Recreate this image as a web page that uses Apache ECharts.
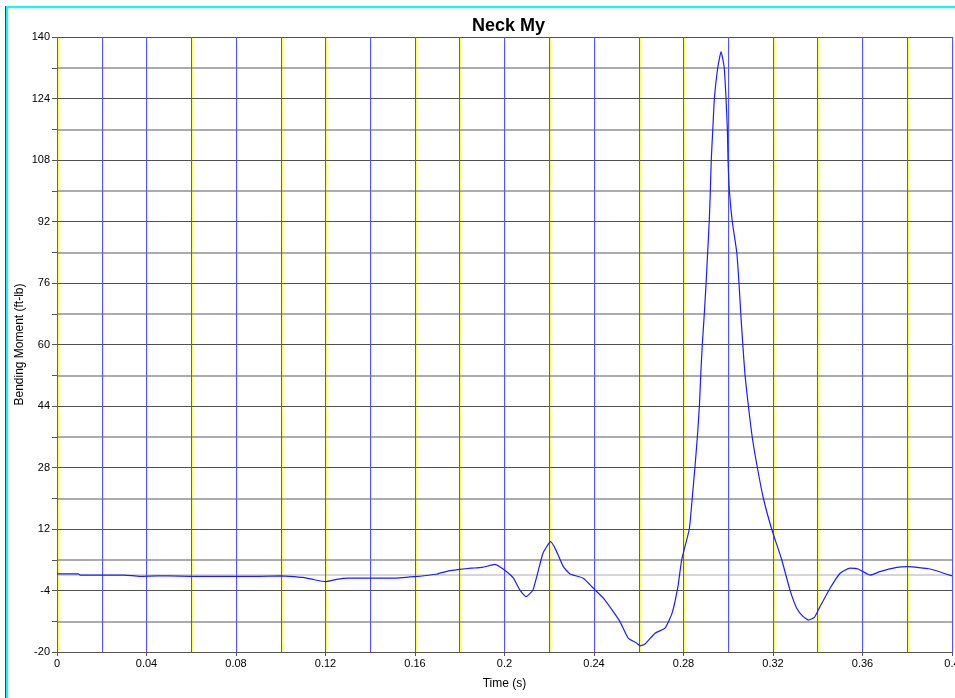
<!DOCTYPE html>
<html>
<head>
<meta charset="utf-8">
<script src="https://cdn.jsdelivr.net/npm/echarts@6/dist/echarts.min.js"></script>
<style>
html,body{margin:0;padding:0;background:#fff;}
#chart{width:955px;height:698px;}
</style>
</head>
<body>
<div id="chart"></div>
<script>
var chartTitle = "Neck My";
var xAxisName = "Time (s)";
var yAxisName = "Bending Moment (ft-lb)";

var time = [0, 0.005, 0.0095, 0.0105, 0.02, 0.03, 0.037, 0.045, 0.05, 0.06,
  0.07, 0.08, 0.09, 0.1, 0.104, 0.11, 0.115, 0.12, 0.125, 0.13,
  0.14, 0.15, 0.16, 0.165, 0.17, 0.175, 0.18, 0.185, 0.19, 0.1957,
  0.201, 0.204, 0.2069, 0.2096, 0.2127, 0.2172, 0.2206, 0.223, 0.2263, 0.2293,
  0.2352, 0.2397, 0.2442, 0.2486, 0.2516, 0.2553, 0.2591, 0.2606, 0.2628, 0.2673,
  0.2717, 0.2749, 0.2775, 0.2792, 0.2826, 0.2839, 0.2851, 0.2862, 0.2871, 0.2877,
  0.2884, 0.2893, 0.2901, 0.2908, 0.2915, 0.2920, 0.2924, 0.2931, 0.2938, 0.2953,
  0.2968, 0.2982, 0.2990, 0.2996, 0.2999, 0.3005, 0.3018, 0.3038, 0.3048, 0.3056,
  0.3065, 0.3075, 0.3090, 0.3107, 0.3130, 0.3157, 0.3194, 0.3239, 0.3276, 0.3306,
  0.3335, 0.3358, 0.3385, 0.3410, 0.3455, 0.3500, 0.3544, 0.358, 0.3634, 0.3678,
  0.3753, 0.3803, 0.3902, 0.4];

var moment = [0.3, 0.3, 0.3, 0, 0, 0, -0.3, -0.2, -0.2, -0.3,
  -0.3, -0.3, -0.3, -0.2, -0.3, -0.6, -1.2, -1.7, -1.1, -0.8,
  -0.8, -0.8, -0.4, -0.1, 0.3, 1.1, 1.5, 1.8, 2.0, 2.8,
  0.9, -0.8, -3.9, -5.6, -3.9, 5.7, 8.7, 6.5, 2.2, 0.3,
  -0.8, -3.4, -6.0, -9.5, -12.1, -16.4, -17.7, -18.4, -17.9, -15.1,
  -13.8, -9.9, -3.0, 4, 12, 20, 28, 36, 44, 52,
  60, 68, 76, 84, 92, 100, 108, 116, 124, 132,
  136.2, 132, 124, 116, 108, 100, 92, 84, 76, 68,
  60, 52, 44, 36, 28, 20, 12, 4, -3.9, -8.6,
  -10.8, -11.7, -11.0, -8.2, -3.4, 0.5, 1.8, 1.6, 0, 0.9,
  2.0, 2.2, 1.6, -0.2];

var xMin = 0, xMax = 0.4, xStep = 0.04;
var yMin = -20, yMax = 140, yStep = 16;

var seriesData = time.map(function (t, i) { return [t, moment[i]]; });

var chart = echarts.init(document.getElementById('chart'), null, {renderer: 'canvas'});
var font = 'Arial, "Liberation Sans", sans-serif';
var blue = '#5252ff';

chart.setOption({
  animation: false,
  backgroundColor: '#ffffff',
  title: {
    text: chartTitle,
    left: 467, top: 12,
    textStyle: {fontFamily: font, fontSize: 18, fontWeight: 'bold', color: '#000'}
  },
  graphic: [
    {type: 'rect', silent: true, z: 100, zlevel: 2,
     shape: {x: 7, y: 7, width: 960, height: 720},
     style: {fill: 'none', stroke: '#00ffff', lineWidth: 2}},
    {type: 'line', silent: true, z: 100, zlevel: 2,
     shape: {x1: 5.5, y1: 6, x2: 5.5, y2: 698},
     style: {stroke: '#3030c0', lineWidth: 1}}
  ],
  grid: [
    {left: 57, right: 3, top: 37, bottom: 46, containLabel: false, outerBoundsMode: 'none'},
    {left: 58, right: 2, top: 37, bottom: 46, containLabel: false, outerBoundsMode: 'none'}
  ],
  xAxis: [
    {
      gridIndex: 0, type: 'value', min: xMin, max: xMax, interval: xStep,
      name: xAxisName, nameLocation: 'middle', nameGap: 26, nameMoveOverlap: false,
      nameTextStyle: {fontFamily: font, fontSize: 12, color: '#000'},
      axisLine: {show: true, onZero: false, lineStyle: {color: '#555', width: 1}},
      axisTick: {show: true, length: 4, lineStyle: {color: '#555'}},
      minorTick: {show: false, splitNumber: 2},
      axisLabel: {fontFamily: font, fontSize: 11, color: '#000', margin: 6},
      splitLine: {show: true, lineStyle: {color: blue, width: 1}},
      minorSplitLine: {show: true, lineStyle: {color: blue, width: 1}},
      zlevel: 1
    },
    {
      gridIndex: 1, type: 'value', min: xMin, max: xMax, interval: xStep,
      axisLine: {show: false}, axisTick: {show: false}, axisLabel: {show: false},
      minorTick: {show: false, splitNumber: 2},
      splitLine: {show: true, lineStyle: {color: '#ffff30', width: 1, opacity: 0.8}},
      minorSplitLine: {show: true, lineStyle: {color: '#ffff30', width: 1, opacity: 0.8}},
      zlevel: 0
    }
  ],
  yAxis: [
    {
      gridIndex: 0, type: 'value', min: yMin, max: yMax, interval: yStep,
      name: yAxisName, nameLocation: 'middle', nameGap: 31, nameRotate: 90,
      nameMoveOverlap: false,
      nameTextStyle: {fontFamily: font, fontSize: 12, color: '#000'},
      axisLine: {show: false},
      axisTick: {show: true, length: 5, lineStyle: {color: '#555'}},
      minorTick: {show: true, splitNumber: 2, length: 5, lineStyle: {color: '#555'}},
      axisLabel: {fontFamily: font, fontSize: 11, color: '#000', margin: 7},
      splitLine: {show: true, lineStyle: {color: '#505050', width: 1}},
      minorSplitLine: {show: true, lineStyle: {color: '#909090', width: 1.5}},
      zlevel: 1
    },
    {
      gridIndex: 1, type: 'value', min: yMin, max: yMax, interval: yStep,
      axisLine: {show: false}, axisTick: {show: false}, axisLabel: {show: false},
      splitLine: {show: false}
    }
  ],
  series: [{
    type: 'line',
    xAxisIndex: 0, yAxisIndex: 0,
    data: seriesData,
    showSymbol: false,
    smooth: 0.15,
    lineStyle: {color: '#1c1cff', width: 1.2},
    zlevel: 1,
    z: 5,
    markLine: {
      silent: true, symbol: 'none', animation: false,
      label: {show: false},
      lineStyle: {color: '#c8c8c8', width: 1.5, type: 'solid'},
      data: [{yAxis: 0}],
      z: 1
    }
  }]
});
</script>
</body>
</html>
